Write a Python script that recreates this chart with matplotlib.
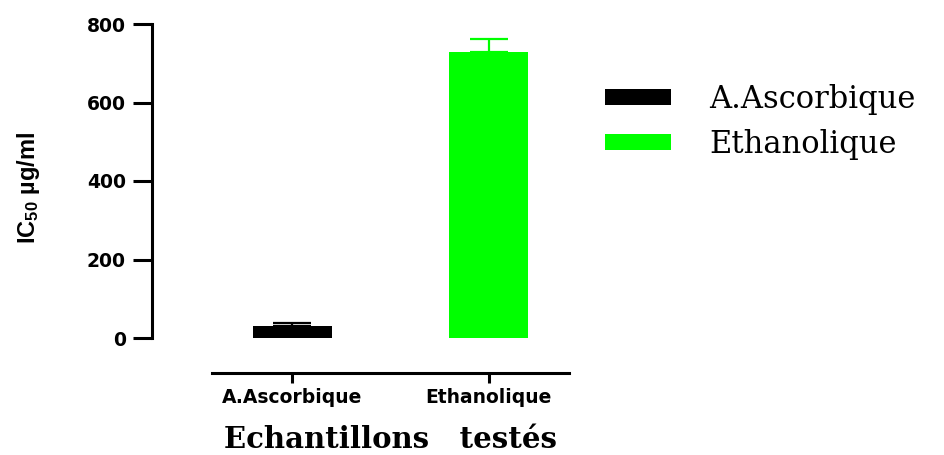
import matplotlib.pyplot as plt
from matplotlib.patches import Patch

plt.rcParams['mathtext.default'] = 'regular'

samples = ['A.Ascorbique', 'Ethanolique']
ic50 = [30, 728]
sd = [7, 35]
colors = ['black', '#00ff00']

fig = plt.figure(figsize=(9.44, 4.55), dpi=100)
ax = fig.add_axes([212 / 944, 117 / 455, 357 / 944, 314 / 455])

x = list(range(len(samples)))
for i in x:
    ax.bar(i, ic50[i], width=0.4, color=colors[i], zorder=2)
    ax.errorbar(i, ic50[i], yerr=[[0], [sd[i]]], fmt='none', ecolor=colors[i],
                elinewidth=1.6, capsize=14, capthick=1.6, zorder=1)

ax.set_xlim(-0.41, 1.41)
ax.set_ylim(0, 800)
ax.set_yticks([0, 200, 400, 600, 800])
ax.set_xticks(x)
ax.set_xticklabels(samples)

for s in ['top', 'right']:
    ax.spines[s].set_visible(False)
ax.spines['left'].set_position(('outward', 43))
ax.spines['bottom'].set_position(('outward', 25))
ax.spines['left'].set_linewidth(2.2)
ax.spines['bottom'].set_linewidth(2.2)
ax.tick_params(axis='y', length=14, width=2.2, pad=5)
ax.tick_params(axis='x', length=7, width=2.2, pad=4)

for lab in ax.get_yticklabels() + ax.get_xticklabels():
    lab.set_fontfamily('DejaVu Sans')
    lab.set_fontweight('bold')
    lab.set_fontsize(13.5)

ax.set_ylabel('IC$_{50}$ µg/ml', family='Liberation Sans', fontweight='bold', fontsize=17)
ax.yaxis.set_label_coords(-0.475, 0.479)
ax.set_xlabel('Echantillons   testés', family='DejaVu Serif', fontweight='bold',
              fontsize=21, labelpad=13)

handles = [Patch(facecolor=c, edgecolor='none') for c in colors]
fig.legend(handles, samples, loc='upper left', bbox_to_anchor=(605 / 944, 1 - 84 / 455),
           frameon=False, prop={'family': 'DejaVu Serif', 'size': 22},
           handlelength=2.16, handleheight=0.4, handletextpad=1.24,
           labelspacing=0.46, borderpad=0, borderaxespad=0)

fig.savefig('out.png', dpi=100)
